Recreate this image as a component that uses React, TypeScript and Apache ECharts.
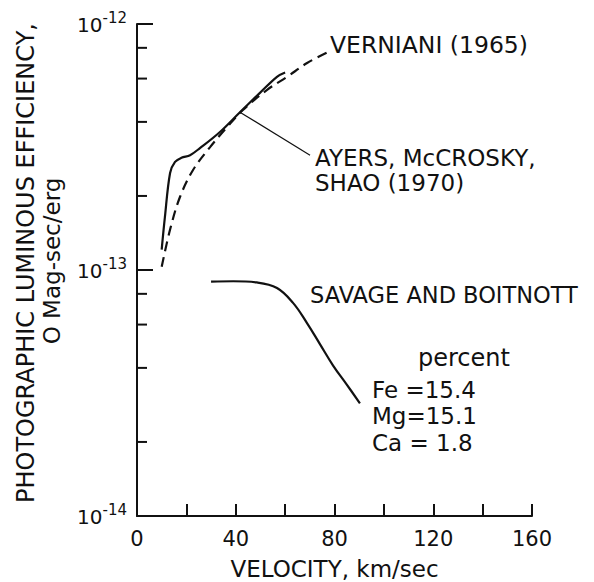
import React, { useEffect, useRef } from "react";
import * as echarts from "echarts";

// Velocity (km/sec) vs photographic luminous efficiency (0 Mag-sec/erg)
const ayersVel = [10, 11.3, 13.4, 15.4, 18, 21.5, 25.5, 33.6, 41.7, 49.8, 56.7, 60];
const ayersEff = [1.21e-13, 1.64e-13, 2.48e-13, 2.75e-13, 2.86e-13, 2.93e-13, 3.13e-13, 3.64e-13, 4.38e-13, 5.25e-13, 6.1e-13, 6.35e-13];

const vernianiVel = [10, 13.4, 17.4, 22.7, 29.6, 36.5, 42.9, 52.7, 60.8, 68.9, 77.5];
const vernianiEff = [1.03e-13, 1.46e-13, 1.98e-13, 2.55e-13, 3.16e-13, 3.81e-13, 4.47e-13, 5.4e-13, 6.1e-13, 6.94e-13, 7.7e-13];

const savageVel = [30, 39, 48.6, 56.7, 63.2, 68.8, 74.1, 79.5, 84.9, 90.3];
const savageEff = [8.97e-14, 9.0e-14, 8.9e-14, 8.45e-14, 7.35e-14, 6.1e-14, 5.0e-14, 4.08e-14, 3.43e-14, 2.87e-14];

// leader line from Ayers curve to its label
const leaderVel = [41.7, 70.1];
const leaderEff = [4.38e-13, 2.93e-13];

const yMinorTicks = [2e-14, 4e-14, 6e-14, 8e-14, 2e-13, 4e-13, 6e-13, 8e-13];
const xLabelValues = [0, 40, 80, 120, 160];

const FONT = "DejaVu Sans";
const INK = "#111";

const zip = (a: number[], b: number[]) => a.map((v, i) => [v, b[i]]);

export default function App() {
  const ref = useRef<HTMLDivElement>(null);
  useEffect(() => {
    if (!ref.current) return;
    const chart = echarts.init(ref.current, undefined, { renderer: "svg" });
    const txt = (text: string, x: number, y: number, size = 23, align = "left") => ({
      type: "text",
      x,
      y,
      silent: true,
      style: {
        text,
        fill: INK,
        font: `${size}px "${FONT}"`,
        textAlign: align,
        textVerticalAlign: "middle",
      },
    });
    chart.setOption({
      animation: false,
      backgroundColor: "#fff",
      grid: { left: 137, top: 24, width: 395, height: 492 },
      xAxis: {
        type: "value",
        min: 0,
        max: 160,
        interval: 20,
        axisLine: { show: true, lineStyle: { color: INK, width: 2 } },
        axisTick: { show: true, inside: true, length: 12, lineStyle: { color: INK, width: 2 } },
        axisLabel: {
          color: INK,
          fontFamily: FONT,
          fontSize: 21,
          margin: 12,
          formatter: (v: number) => (xLabelValues.includes(v) ? String(v) : ""),
        },
        splitLine: { show: false },
      },
      yAxis: {
        type: "log",
        logBase: 10,
        min: 1e-14,
        max: 1e-12,
        axisLine: { show: true, lineStyle: { color: INK, width: 2 } },
        axisTick: { show: true, inside: true, length: 16, lineStyle: { color: INK, width: 2 } },
        axisLabel: {
          margin: 10,
          formatter: (v: number) => `{b|10}{s|${Math.round(Math.log10(v))}}`,
          rich: {
            b: { fontSize: 20, fontFamily: FONT, color: INK, lineHeight: 20, padding: [2, 0, 0, 0] },
            s: { fontSize: 15, fontFamily: FONT, color: INK, lineHeight: 15, padding: [0, 0, 12, 0] },
          },
        },
        splitLine: { show: false },
      },
      series: [
        {
          type: "custom",
          silent: true,
          clip: false,
          data: yMinorTicks.map((v) => [0, v]),
          renderItem: (_p: any, api: any) => {
            const pt = api.coord([0, api.value(1)]);
            return {
              type: "line",
              shape: { x1: pt[0], y1: pt[1], x2: pt[0] + 10, y2: pt[1] },
              style: { stroke: INK, lineWidth: 2 },
            };
          },
        },
        {
          type: "line",
          name: "Ayers, McCrosky, Shao (1970)",
          data: zip(ayersVel, ayersEff),
          smooth: 0.35,
          symbol: "none",
          lineStyle: { color: INK, width: 2.2 },
          silent: true,
        },
        {
          type: "line",
          name: "Verniani (1965)",
          data: zip(vernianiVel, vernianiEff),
          smooth: 0.35,
          symbol: "none",
          lineStyle: { color: INK, width: 2.2, type: [10, 6] },
          silent: true,
        },
        {
          type: "line",
          name: "Savage and Boitnott",
          data: zip(savageVel, savageEff),
          smooth: 0.4,
          symbol: "none",
          lineStyle: { color: INK, width: 2.2 },
          silent: true,
        },
        {
          type: "line",
          name: "leader",
          data: zip(leaderVel, leaderEff),
          symbol: "none",
          lineStyle: { color: INK, width: 1.2 },
          silent: true,
        },
      ],
      graphic: [
        txt("VELOCITY, km/sec", 334.5, 569, 23, "center"),
        { ...txt("PHOTOGRAPHIC LUMINOUS EFFICIENCY,", 26, 263, 24, "center"), rotation: Math.PI / 2 },
        { ...txt("O Mag-sec/erg", 52, 261, 23, "center"), rotation: Math.PI / 2 },
        txt("VERNIANI (1965)", 330, 45, 23.5),
        txt("AYERS, McCROSKY,", 315, 158, 23),
        txt("SHAO (1970)", 315, 183, 23),
        txt("SAVAGE AND BOITNOTT", 310, 295, 22.5),
        txt("percent", 418, 358, 24),
        txt("Fe =15.4", 372, 390, 23),
        txt("Mg=15.1", 372, 416, 23),
        txt("Ca = 1.8", 372, 443, 23),
      ],
    });
    return () => chart.dispose();
  }, []);
  return (
    <div
      ref={ref}
      style={{ position: "absolute", left: 0, top: 0, width: 594, height: 582, background: "#fff" }}
    />
  );
}
